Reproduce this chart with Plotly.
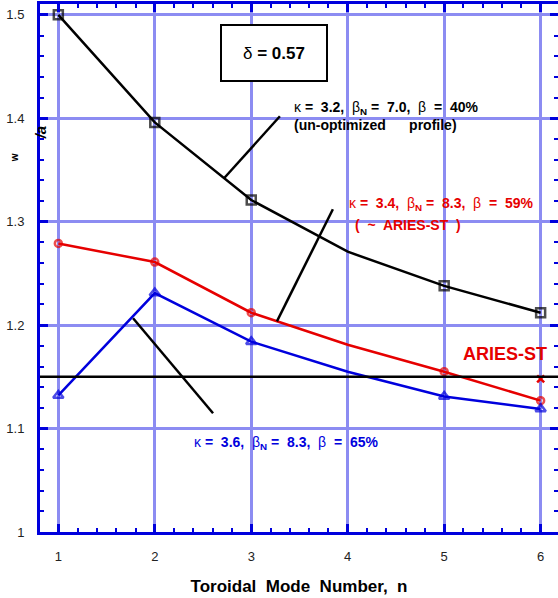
import plotly.graph_objects as go

mode_n = [1, 2, 3, 4, 5, 6]
wall_k32 = [1.500, 1.396, 1.321, 1.271, 1.238, 1.212]   # kappa 3.2, un-optimized
wall_k34 = [1.279, 1.261, 1.212, 1.181, 1.155, 1.127]   # kappa 3.4, ~ARIES-ST
wall_k36 = [1.132, 1.231, 1.184, 1.155, 1.131, 1.119]   # kappa 3.6
has_marker = [True, True, True, False, True, True]     # n=4 is drawn without a symbol

aries_n = [6]
aries_wall = [1.148]
aries_level = 1.15

x_ticks = [1, 2, 3, 4, 5, 6]
y_ticks = [1.0, 1.1, 1.2, 1.3, 1.4, 1.5]
y_ticktext = ["1", "1.1", "1.2", "1.3", "1.4", "1.5"]

BLACK = "#000000"
RED = "#e60000"
BLUE = "#0000dd"
GRID = "#8c8cf2"
FONT = "Liberation Sans, Arial, sans-serif"

fig = go.Figure()


def sizes(s):
    return [s if m else 0 for m in has_marker]


fig.add_trace(go.Scatter(
    x=mode_n, y=wall_k32, mode="lines+markers",
    line=dict(color=BLACK, width=2.5),
    marker=dict(symbol="square-open", size=sizes(9), color=BLACK, line=dict(width=2.5)),
    showlegend=False,
))
fig.add_trace(go.Scatter(
    x=mode_n, y=wall_k34, mode="lines+markers",
    line=dict(color=RED, width=2.5),
    marker=dict(symbol="circle-open", size=sizes(7), color=RED, line=dict(width=2.5)),
    showlegend=False,
))
fig.add_trace(go.Scatter(
    x=mode_n, y=wall_k36, mode="lines+markers",
    line=dict(color=BLUE, width=2.5),
    marker=dict(symbol="triangle-up-open", size=sizes(9), color=BLUE, line=dict(width=2.5)),
    showlegend=False,
))
fig.add_trace(go.Scatter(
    x=aries_n, y=aries_wall, mode="markers",
    marker=dict(symbol="x-thin-open", size=7, color=RED, line=dict(width=2.5, color=RED)),
    showlegend=False,
))

# ARIES-ST reference wall position across the whole plot
fig.add_shape(type="line", xref="paper", x0=0, x1=1, yref="y", y0=aries_level, y1=aries_level,
              line=dict(color=BLACK, width=2.5), layer="above")

# pointer lines from labels to curves
for x0, y0, x1, y1 in [(3.297, 1.402, 2.718, 1.342),
                       (3.846, 1.312, 3.266, 1.2037),
                       (1.775, 1.2067, 2.604, 1.1148)]:
    fig.add_shape(type="line", x0=x0, y0=y0, x1=x1, y1=y1,
                  line=dict(color=BLACK, width=2.5), layer="above")

label_size = 14

fig.add_annotation(x=3.24, y=1.463, text="δ <b>= 0.57</b>", showarrow=False,
                   font=dict(family=FONT, size=17, color=BLACK),
                   bordercolor=BLACK, borderwidth=2, borderpad=2, width=100, height=50,
                   bgcolor="white")
fig.add_annotation(x=3.422, y=1.402, xanchor="left", align="left", showarrow=False,
                   text="κ <b>=  3.2,</b>  β<sub><b>N</b></sub> <b>=  7.0,</b>  β  <b>=  40%</b>"
                        "<br><b>(un-optimized      profile)</b>",
                   font=dict(family=FONT, size=label_size, color=BLACK))
fig.add_annotation(x=3.992, y=1.3169, xanchor="left", showarrow=False,
                   text="κ <b>=  3.4,</b>  β<sub><b>N</b></sub> <b>=  8.3,</b>  β  <b>=  59%</b>",
                   font=dict(family=FONT, size=label_size, color=RED))
fig.add_annotation(x=4.054, y=1.2966, xanchor="left", showarrow=False,
                   text="<b>(  ~  ARIES-ST  )</b>",
                   font=dict(family=FONT, size=label_size, color=RED))
fig.add_annotation(x=2.385, y=1.0858, xanchor="left", showarrow=False,
                   text="κ <b>=  3.6,</b>  β<sub><b>N</b></sub> <b>=  8.3,</b>  β  <b>=  65%</b>",
                   font=dict(family=FONT, size=label_size, color=BLUE))
fig.add_annotation(x=5.172, y=1.1718, xanchor="left", showarrow=False,
                   text="<b>ARIES-ST</b>", font=dict(family=FONT, size=18, color=RED))

# broken y-axis title pieces
fig.add_annotation(xref="paper", yref="paper", x=0, y=0.757, xanchor="center", yanchor="middle",
                   text="<b><i>/a</i></b>", textangle=-90, showarrow=False,
                   font=dict(family=FONT, size=15, color=BLACK))
fig.add_annotation(xref="paper", yref="paper", x=-0.05, y=0.708, xanchor="center", yanchor="middle",
                   text="<b>w</b>", textangle=-90, showarrow=False,
                   font=dict(family=FONT, size=10, color=BLACK))

axis_common = dict(
    showline=True, linecolor=BLUE, linewidth=3, mirror="allticks",
    showgrid=True, gridcolor=GRID, gridwidth=3, zeroline=False,
    ticks="inside", ticklen=8, tickwidth=3, tickcolor=BLUE,
    tickfont=dict(family=FONT, size=13, color="#222222"),
)

fig.update_xaxes(
    range=[0.81, 6.18], tickvals=x_ticks, ticktext=[str(v) for v in x_ticks],
    minor=dict(dtick=0.2, ticks="inside", ticklen=4, tickwidth=2, tickcolor=BLUE, showgrid=False),
    ticklabelstandoff=10,
    title=dict(text="<b>Toroidal\u00a0\u00a0Mode\u00a0\u00a0Number,\u00a0\u00a0n</b>", standoff=18,
               font=dict(family=FONT, size=17, color=BLACK)),
    **axis_common,
)
fig.update_yaxes(
    range=[1.0, 1.5105], tickvals=y_ticks, ticktext=y_ticktext,
    minor=dict(dtick=0.02, ticks="inside", ticklen=4, tickwidth=2, tickcolor=BLUE, showgrid=False),
    ticklabelstandoff=10,
    **axis_common,
)

fig.update_layout(
    width=558, height=598,
    margin=dict(l=40, r=0, t=4, b=66, autoexpand=False),
    paper_bgcolor="white", plot_bgcolor="white",
    font=dict(family=FONT),
)

# the page's default body margin would shift the figure by 8px
fig.write_html("out.html", config={"displayModeBar": False},
               post_script="document.body.style.margin='0';")
